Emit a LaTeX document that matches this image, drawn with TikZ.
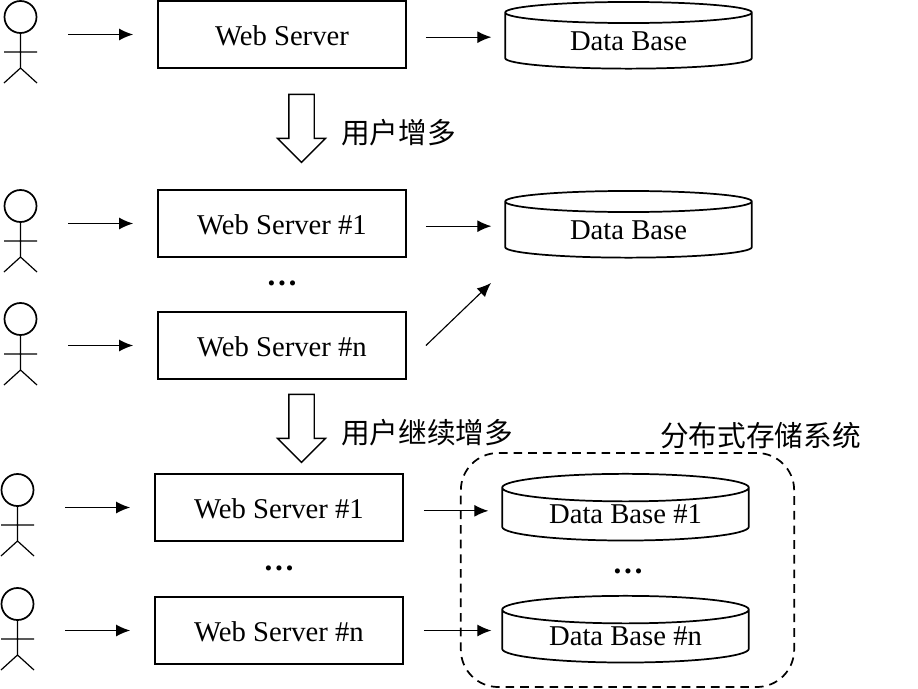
\documentclass[tikz,border=0pt]{standalone}
\usepackage{fontspec}
\setmainfont{Liberation Serif}
\newfontfamily\cjk{Noto Sans CJK SC}
\usetikzlibrary{arrows.meta,shapes.geometric,shapes.arrows}
\tikzset{
  server/.style={draw,line width=1.4pt,minimum width=186pt,minimum height=50pt,inner sep=0pt,text height=16pt,text depth=.2pt,font=\fontsize{21.5}{24}\selectfont},
  dbase/.style={draw,cylinder,shape border rotate=90,aspect=.18,line width=1.3pt,minimum width=185pt,minimum height=50pt,inner sep=0pt,font=\fontsize{21.5}{24}\selectfont},
  person/.style={minimum width=28pt,minimum height=64pt,inner sep=0pt,path picture={
    \begin{scope}[shift={(path picture bounding box.center)}]
    \draw[line width=1.3pt] (0,-25) circle (16);
    \draw[line width=.9pt] (0,-9) -- (0,26) (-16.5,10) -- (16.5,10) (-16.5,41) -- (0,26) -- (16.5,41);
    \end{scope}}},
  hollow/.style={draw,single arrow,shape border rotate=270,line width=1pt,minimum height=51pt,minimum width=35pt,single arrow head extend=8.5pt,inner sep=9pt},
  note/.style={font=\fontsize{21.5}{24}\cjk,inner sep=0pt},
  dots/.style={font=\fontsize{23.5}{24}\bfseries,inner sep=0pt},
  conn/.style={-{Latex[length=10.5pt,width=9pt]},line width=.85pt}
}
\begin{document}
\begin{tikzpicture}[x=.75pt,y=-.75pt]
\useasboundingbox (0,0) rectangle (918,689);
% first stage
\node[person] (u1) at (20.5,42) {};
\node[server] (ws1) at (282,34.5) {Web Server};
\node[dbase] (db1) at (628.5,41) {Data Base};
\node[hollow] (h1) at (301.5,122) {};
\node[note] (t1) at (398.5,133) {用户增多};
% second stage
\node[person] (u2) at (20.5,231) {};
\node[person] (u3) at (20.5,344) {};
\node[server] (ws2) at (282,223.5) {Web Server \#1};
\node[server] (ws3) at (282,345.5) {Web Server \#n};
\node[dots] (d1) at (282,283) {…};
\node[dbase] (db2) at (628.5,230) {Data Base};
\coordinate (c1) at (491,283);
\node[hollow] (h2) at (301.5,422) {};
\node[note] (t2) at (427,433) {用户继续增多};
% third stage
\node[person] (u4) at (17.5,515) {};
\node[person] (u5) at (17.5,629) {};
\node[server] (ws4) at (279,507.5) {Web Server \#1};
\node[server] (ws5) at (279,630.5) {Web Server \#n};
\node[dots] (d2) at (279,568) {…};
\node[dbase] (db3) at (625.5,514.5) {Data Base \#1};
\node[dbase] (db4) at (625.5,636.5) {Data Base \#n};
\node[dots] (d3) at (628,571) {…};
\node[draw,dashed,dash pattern=on 6.5pt off 4.5pt,line width=1.3pt,rounded corners=28pt,minimum width=250pt,minimum height=175.5pt] (store) at (627.5,570) {};
\node[note] (t3) at (760.5,436) {分布式存储系统};
% users to servers
\draw [conn,shorten <=29*.75pt,shorten >=24*.75pt] (ws1.west -| u1.east) -- (ws1.west);
\draw [conn,shorten <=29*.75pt,shorten >=24*.75pt] (ws2.west -| u2.east) -- (ws2.west);
\draw [conn,shorten <=29*.75pt,shorten >=24*.75pt] (ws3.west -| u3.east) -- (ws3.west);
\draw [conn,shorten <=29*.75pt,shorten >=24*.75pt] (ws4.west -| u4.east) -- (ws4.west);
\draw [conn,shorten <=29*.75pt,shorten >=24*.75pt] (ws5.west -| u5.east) -- (ws5.west);
% servers to data bases
\draw [conn,shorten <=19*.75pt,shorten >=13*.75pt] ([yshift=-2pt]ws1.east) -- ([yshift=-2pt]ws1.east -| db1.west);
\draw [conn,shorten <=19*.75pt,shorten >=13*.75pt] ([yshift=-2pt]ws2.east) -- ([yshift=-2pt]ws2.east -| db2.west);
\draw [conn] ([xshift=19*.75pt]ws3.east) -- (c1);
\draw [conn,shorten <=20*.75pt,shorten >=13*.75pt] ([yshift=-2.5pt]ws4.east) -- ([yshift=-2.5pt]ws4.east -| db3.west);
\draw [conn,shorten <=20*.75pt,shorten >=10*.75pt] (ws5.east) -- (ws5.east -| db4.west);
\end{tikzpicture}
\end{document}
